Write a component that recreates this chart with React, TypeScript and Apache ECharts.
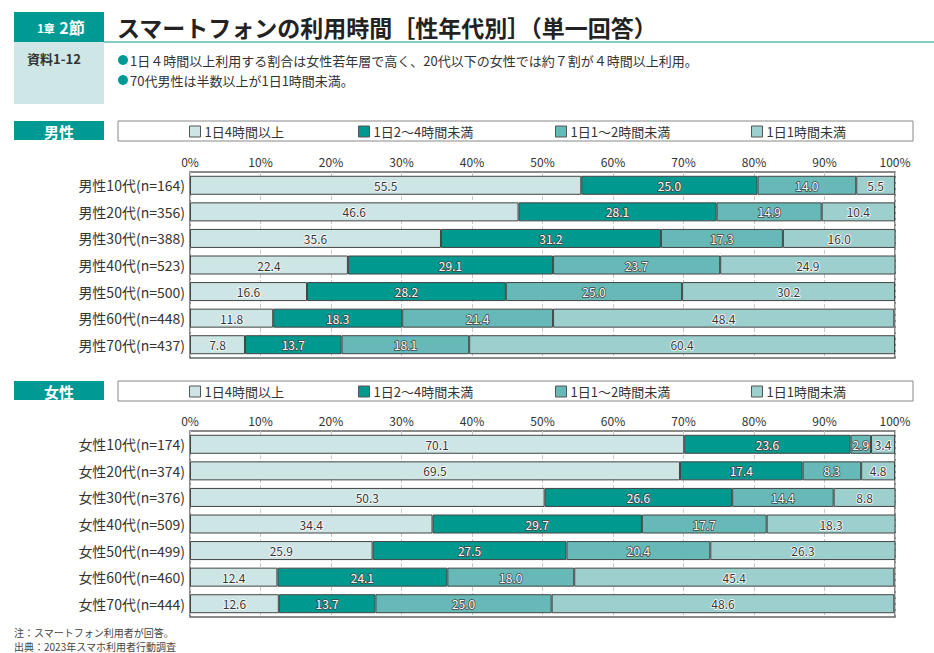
import React, { useEffect, useRef } from "react";
import * as echarts from "echarts";

const seriesNames = ["1日4時間以上", "1日2～4時間未満", "1日1～2時間未満", "1日1時間未満"];
const colors = ["#cde5e4", "#00998f", "#66b9b6", "#9dcfcf"];

const maleCats = [
  "男性10代(n=164)",
  "男性20代(n=356)",
  "男性30代(n=388)",
  "男性40代(n=523)",
  "男性50代(n=500)",
  "男性60代(n=448)",
  "男性70代(n=437)",
];
const male4h = [55.5, 46.6, 35.6, 22.4, 16.6, 11.8, 7.8];
const male2to4 = [25.0, 28.1, 31.2, 29.1, 28.2, 18.3, 13.7];
const male1to2 = [14.0, 14.9, 17.3, 23.7, 25.0, 21.4, 18.1];
const maleUnder1 = [5.5, 10.4, 16.0, 24.9, 30.2, 48.4, 60.4];

const femaleCats = [
  "女性10代(n=174)",
  "女性20代(n=374)",
  "女性30代(n=376)",
  "女性40代(n=509)",
  "女性50代(n=499)",
  "女性60代(n=460)",
  "女性70代(n=444)",
];
const female4h = [70.1, 69.5, 50.3, 34.4, 25.9, 12.4, 12.6];
const female2to4 = [23.6, 17.4, 26.6, 29.7, 27.5, 24.1, 13.7];
const female1to2 = [2.9, 8.3, 14.4, 17.7, 20.4, 18.0, 25.0];
const femaleUnder1 = [3.4, 4.8, 8.8, 18.3, 26.3, 45.4, 48.6];

const FONT = "'Noto Sans CJK JP', 'Noto Sans', sans-serif";

export default function App() {
  const ref = useRef<HTMLDivElement>(null);
  useEffect(() => {
    document.body.style.margin = "0";
    const chart = echarts.init(ref.current!, null, { renderer: "svg" });

    const labelFor = (i: number) => {
      const dark = i === 1 || i === 2;
      return {
        show: true,
        position: "inside",
        fontFamily: FONT,
        fontSize: 12,
        color: dark ? "#ffffff" : "#333333",
        textBorderColor: dark ? "#444444" : "#ffffff",
        textBorderWidth: 1.5,
        formatter: (p: any) => Number(p.value).toFixed(1),
      };
    };

    const maleData = [male4h, male2to4, male1to2, maleUnder1];
    const femaleData = [female4h, female2to4, female1to2, femaleUnder1];

    const series: any[] = [];
    [maleData, femaleData].forEach((group, gi) => {
      group.forEach((vals, i) => {
        series.push({
          type: "bar",
          name: seriesNames[i],
          stack: "s" + gi,
          xAxisIndex: gi,
          yAxisIndex: gi,
          data: vals,
          barWidth: 19,
          itemStyle: { color: colors[i], borderColor: "#444", borderWidth: 1 },
          label: labelFor(i),
        });
      });
    });

    const xAxisBase = (gi: number) => ({
      type: "value",
      gridIndex: gi,
      position: "top",
      min: 0,
      max: 100,
      interval: 10,
      axisLine: { show: false },
      axisTick: { show: false },
      axisLabel: {
        formatter: "{value}%",
        fontFamily: FONT,
        fontSize: 12,
        color: "#333",
        margin: 5,
      },
      splitLine: { show: true, lineStyle: { color: "#c8c8c8", type: "dashed", width: 1 } },
    });
    const yAxisBase = (gi: number, cats: string[]) => ({
      type: "category",
      gridIndex: gi,
      inverse: true,
      data: cats,
      axisLine: { show: false },
      axisTick: { show: false },
      axisLabel: { fontFamily: FONT, fontSize: 14, color: "#333", margin: 5 },
    });

    const legendXs = [184, 353, 550, 746];
    const legends: any[] = [];
    [120, 380].forEach((top) => {
      seriesNames.forEach((nm, i) => {
        legends.push({
          data: [nm],
          left: legendXs[i],
          top: top,
          itemWidth: 11,
          itemHeight: 11,
          icon: "rect",
          selectedMode: false,
          itemStyle: { borderColor: "#555", borderWidth: 1 },
          textStyle: { fontFamily: FONT, fontSize: 13, color: "#333", padding: [0, 0, 0, -1] },
        });
      });
    });

    const sectionBox = (y: number, label: string) => [
      {
        type: "rect",
        shape: { x: 14, y: y, width: 90, height: 19 },
        style: { fill: "#009a94" },
      },
      {
        type: "text",
        x: 59,
        y: y + 10,
        style: {
          text: label,
          fill: "#fff",
          font: `bold 15px ${FONT}`,
          align: "center",
          verticalAlign: "middle",
        },
      },
      {
        type: "rect",
        shape: { x: 118, y: y, width: 795, height: 20 },
        style: { fill: "#fff", stroke: "#888", lineWidth: 1 },
        z: -1,
      },
    ];

    chart.setOption({
      animation: false,
      backgroundColor: "#fff",
      grid: [
        {
          left: 190,
          right: 39,
          top: 172,
          height: 186,
          show: true,
          borderColor: "#666",
          borderWidth: 1.5,
          backgroundColor: "transparent",
        },
        {
          left: 190,
          right: 39,
          top: 431,
          height: 186,
          show: true,
          borderColor: "#666",
          borderWidth: 1.5,
          backgroundColor: "transparent",
        },
      ],
      xAxis: [xAxisBase(0), xAxisBase(1)],
      yAxis: [yAxisBase(0, maleCats), yAxisBase(1, femaleCats)],
      legend: legends,
      series,
      graphic: [
        // header
        { type: "rect", shape: { x: 14, y: 12, width: 90, height: 30 }, style: { fill: "#009a94" } },
        {
          type: "text",
          x: 46,
          y: 28,
          style: { text: "1章", fill: "#fff", font: `bold 11px ${FONT}`, align: "center", verticalAlign: "middle" },
        },
        {
          type: "text",
          x: 72,
          y: 27,
          style: { text: "2節", fill: "#fff", font: `bold 16px ${FONT}`, align: "center", verticalAlign: "middle" },
        },
        {
          type: "text",
          x: 117,
          y: 27,
          style: {
            text: "スマートフォンの利用時間［性年代別］（単一回答）",
            fill: "#222",
            font: `bold 23px ${FONT}`,
            align: "left",
            verticalAlign: "middle",
          },
        },
        { type: "line", shape: { x1: 104, y1: 42, x2: 934, y2: 42 }, style: { stroke: "#5cbcb8", lineWidth: 1.5 } },
        { type: "rect", shape: { x: 14, y: 42, width: 90, height: 62 }, style: { fill: "#cfe6e6" } },
        {
          type: "text",
          x: 54,
          y: 58,
          style: { text: "資料1-12", fill: "#333", font: `bold 13px ${FONT}`, align: "center", verticalAlign: "middle" },
        },
        { type: "circle", shape: { cx: 123, cy: 60, r: 5 }, style: { fill: "#009a94" } },
        {
          type: "text",
          x: 130,
          y: 60,
          style: {
            text: "1日４時間以上利用する割合は女性若年層で高く、20代以下の女性では約７割が４時間以上利用。",
            fill: "#333",
            font: `13px ${FONT}`,
            align: "left",
            verticalAlign: "middle",
          },
        },
        { type: "circle", shape: { cx: 123, cy: 80, r: 5 }, style: { fill: "#009a94" } },
        {
          type: "text",
          x: 130,
          y: 80,
          style: {
            text: "70代男性は半数以上が1日1時間未満。",
            fill: "#333",
            font: `13px ${FONT}`,
            align: "left",
            verticalAlign: "middle",
          },
        },
        ...sectionBox(121, "男性"),
        ...sectionBox(381, "女性"),
        {
          type: "text",
          x: 14,
          y: 632,
          style: {
            text: "注：スマートフォン利用者が回答。",
            fill: "#444",
            font: `10px ${FONT}`,
            align: "left",
            verticalAlign: "middle",
          },
        },
        {
          type: "text",
          x: 14,
          y: 646,
          style: {
            text: "出典：2023年スマホ利用者行動調査",
            fill: "#444",
            font: `10px ${FONT}`,
            align: "left",
            verticalAlign: "middle",
          },
        },
      ],
    });
    return () => chart.dispose();
  }, []);
  return <div ref={ref} style={{ width: 934, height: 653 }} />;
}
